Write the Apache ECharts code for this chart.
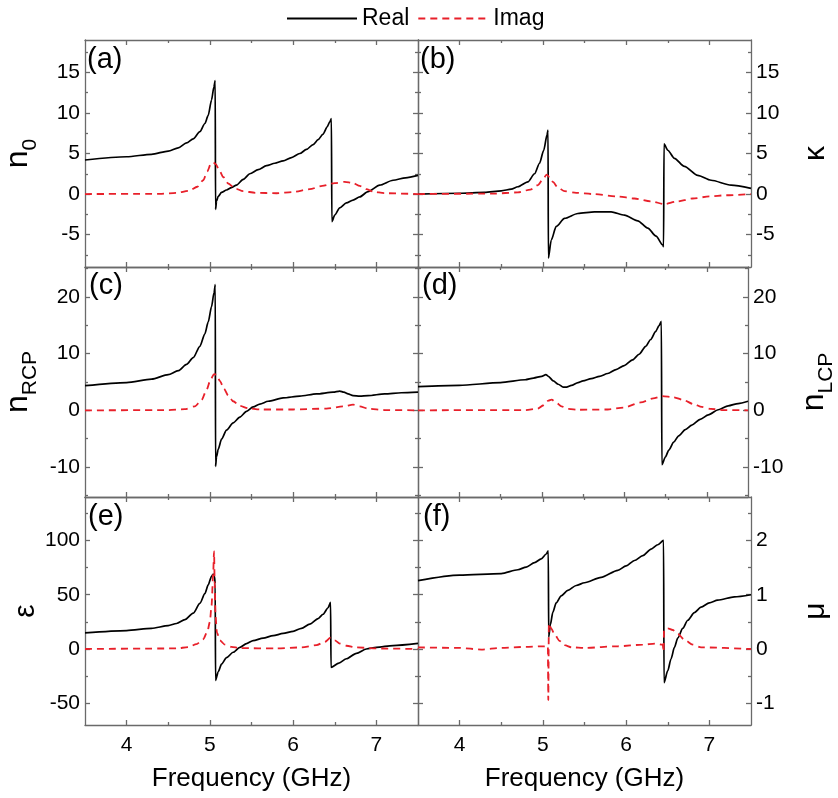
<!DOCTYPE html>
<html><head><meta charset="utf-8">
<script src="https://cdn.jsdelivr.net/npm/echarts@6/dist/echarts.min.js"></script>
<style>html,body{margin:0;padding:0;background:#fff}#c{width:838px;height:798px}</style>
</head><body><div id="c"></div>
<script>
const FONT = 'Liberation Sans, Arial, sans-serif';
const FRAME = '#6a6a6a';
const RED = '#e8202a';

// x axis (Frequency, GHz)
const xMin = 3.5, xMax = 7.5;
const xMajor = [4, 5, 6, 7];
const xMinor = [4.5, 5.5, 6.5];

// (a) n0
const a_real_f = [3.5, 4.0, 4.3, 4.5, 4.62, 4.72, 4.8, 4.88, 4.94, 4.98, 5.02, 5.048, 5.064, 5.068, 5.08, 5.1, 5.14, 5.2, 5.26, 5.32, 5.4, 5.48, 5.58, 5.68, 5.78, 5.88, 5.98, 6.08, 6.16, 6.24, 6.3, 6.36, 6.41, 6.44, 6.46, 6.465, 6.5, 6.56, 6.64, 6.72, 6.8, 6.9, 7.04, 7.2, 7.35, 7.5];
const a_real_v = [4.2, 4.6, 4.9, 5.3, 5.7, 6.3, 6.8, 7.7, 8.7, 9.7, 11.6, 13.2, 14.0, -1.9, -0.9, -0.3, 0.2, 0.5, 0.8, 1.1, 1.8, 2.5, 3.0, 3.5, 3.8, 4.1, 4.5, 5.0, 5.5, 6.1, 6.7, 7.4, 8.3, 8.9, 9.3, -3.4, -2.6, -1.7, -1.1, -0.75, -0.35, 0.3, 1.1, 1.7, 2.0, 2.3];
const a_imag_f = [3.5, 4.4, 4.6, 4.75, 4.85, 4.92, 4.97, 5.01, 5.04, 5.07, 5.11, 5.16, 5.22, 5.3, 5.4, 5.55, 5.8, 6.0, 6.2, 6.35, 6.5, 6.62, 6.72, 6.8, 6.88, 6.96, 7.1, 7.5];
const a_imag_v = [0, 0.02, 0.15, 0.4, 0.9, 1.7, 2.8, 3.7, 3.9, 3.7, 3.0, 2.1, 1.3, 0.7, 0.35, 0.15, 0.1, 0.25, 0.6, 1.0, 1.35, 1.5, 1.35, 1.0, 0.6, 0.3, 0.1, 0];

// (b) kappa
const b_real_f = [3.5, 4.0, 4.3, 4.5, 4.62, 4.7, 4.82, 4.9, 4.96, 5.01, 5.05, 5.062, 5.066, 5.1, 5.16, 5.26, 5.42, 5.62, 5.82, 5.98, 6.14, 6.26, 6.36, 6.44, 6.45, 6.455, 6.5, 6.58, 6.7, 6.86, 7.02, 7.26, 7.5];
const b_real_v = [0, 0.1, 0.2, 0.4, 0.6, 0.9, 1.5, 2.5, 3.8, 5.4, 7.3, 7.9, -7.9, -5.7, -4.0, -3.0, -2.4, -2.2, -2.2, -2.6, -3.3, -4.2, -5.2, -6.3, -6.5, 6.2, 5.4, 4.4, 3.4, 2.3, 1.7, 1.1, 0.7];
const b_imag_f = [3.5, 4.4, 4.7, 4.85, 4.94, 5.0, 5.045, 5.08, 5.12, 5.18, 5.26, 5.4, 5.6, 5.9, 6.1, 6.3, 6.46, 6.6, 6.8, 7.0, 7.2, 7.5];
const b_imag_v = [0, 0.05, 0.2, 0.55, 1.1, 1.8, 2.4, 2.1, 1.5, 0.8, 0.35, 0.15, 0, -0.3, -0.55, -0.9, -1.25, -0.95, -0.55, -0.3, -0.15, 0];

// (c) nRCP
const c_real_f = [3.5, 4.0, 4.3, 4.5, 4.62, 4.72, 4.8, 4.88, 4.94, 4.98, 5.02, 5.05, 5.065, 5.068, 5.08, 5.1, 5.14, 5.2, 5.28, 5.36, 5.44, 5.52, 5.6, 5.7, 5.88, 6.08, 6.28, 6.48, 6.56, 6.61, 6.66, 6.72, 6.8, 6.9, 7.1, 7.3, 7.5];
const c_real_v = [4.35, 4.9, 5.5, 6.3, 7.0, 8.1, 9.3, 11.3, 13.5, 15.6, 18.3, 20.8, 22.2, -9.9, -8.2, -6.9, -5.1, -3.5, -2.2, -1.2, -0.2, 0.6, 1.1, 1.6, 2.2, 2.5, 2.9, 3.2, 3.4, 3.2, 2.9, 2.6, 2.5, 2.6, 2.9, 3.1, 3.2];
const c_imag_f = [3.5, 4.5, 4.7, 4.82, 4.9, 4.96, 5.01, 5.05, 5.08, 5.12, 5.17, 5.22, 5.28, 5.36, 5.46, 5.6, 6.0, 6.4, 6.6, 6.72, 6.8, 6.9, 7.1, 7.5];
const c_imag_v = [0, 0.03, 0.2, 0.7, 1.8, 3.6, 5.5, 6.4, 6.3, 5.2, 3.8, 2.6, 1.6, 0.8, 0.35, 0.15, 0.15, 0.3, 0.7, 1.0, 0.7, 0.3, 0.05, 0];

// (d) nLCP
const d_real_f = [3.5, 4.0, 4.5, 4.8, 4.9, 5.0, 5.05, 5.08, 5.14, 5.2, 5.26, 5.3, 5.36, 5.44, 5.5, 5.6, 5.7, 5.8, 5.9, 6.0, 6.1, 6.18, 6.26, 6.32, 6.38, 6.42, 6.45, 6.456, 6.5, 6.54, 6.6, 6.66, 6.74, 6.82, 6.92, 7.02, 7.14, 7.26, 7.38, 7.5];
const d_real_v = [4.2, 4.4, 4.9, 5.4, 5.7, 6.0, 6.3, 6.0, 5.2, 4.6, 4.1, 4.1, 4.4, 4.9, 5.2, 5.6, 6.0, 6.5, 7.2, 7.9, 8.9, 9.9, 11.3, 12.5, 13.9, 14.9, 15.7, -9.6, -8.2, -7.0, -5.6, -4.5, -3.4, -2.6, -1.6, -0.8, 0.1, 0.8, 1.2, 1.6];
const d_imag_f = [3.5, 4.8, 4.95, 5.02, 5.08, 5.12, 5.17, 5.24, 5.32, 5.45, 5.8, 6.0, 6.2, 6.35, 6.46, 6.6, 6.72, 6.84, 6.94, 7.05, 7.2, 7.5];
const d_imag_v = [0, 0.05, 0.3, 0.9, 1.7, 1.9, 1.4, 0.7, 0.25, 0.1, 0.15, 0.5, 1.4, 2.1, 2.5, 2.3, 1.8, 1.1, 0.6, 0.25, 0.05, 0];

// (e) epsilon
const e_real_f = [3.5, 4.0, 4.3, 4.5, 4.6, 4.7, 4.8, 4.88, 4.94, 4.98, 5.02, 5.04, 5.055, 5.064, 5.068, 5.1, 5.14, 5.2, 5.28, 5.36, 5.44, 5.52, 5.64, 5.76, 5.88, 6.0, 6.1, 6.2, 6.3, 6.36, 6.42, 6.45, 6.455, 6.55, 6.64, 6.76, 6.88, 7.0, 7.2, 7.5];
const e_real_v = [14.8, 17, 19, 21.5, 23.5, 27, 33, 42, 51, 59, 67, 69, 67, 60, -29, -21, -14, -8, -3, 1.5, 5, 7.7, 10, 12.3, 14.3, 16.3, 19, 23, 28, 32, 38, 43, -17, -13, -9, -4, 0, 1.5, 3.2, 5.2];
const e_imag_f = [3.5, 4.6, 4.74, 4.84, 4.92, 4.97, 5.0, 5.02, 5.04, 5.05, 5.058, 5.068, 5.085, 5.12, 5.18, 5.26, 5.36, 5.8, 6.1, 6.28, 6.38, 6.45, 6.5, 6.56, 6.64, 6.76, 7.0, 7.5];
const e_imag_v = [0, 0.5, 1.8, 4.5, 9, 16, 25, 40, 70, 90, 60, 30, 15, 8, 4, 2, 0.8, 0.5, 1.5, 3.5, 6.5, 10.5, 8, 5, 3, 1.5, 0.5, 0];

// (f) mu
const f_real_f = [3.5, 4.0, 4.5, 4.7, 4.8, 4.9, 4.98, 5.04, 5.065, 5.07, 5.09, 5.12, 5.16, 5.22, 5.3, 5.4, 5.5, 5.7, 5.9, 6.0, 6.1, 6.2, 6.3, 6.38, 6.45, 6.455, 6.5, 6.54, 6.58, 6.62, 6.68, 6.74, 6.82, 6.9, 7.0, 7.1, 7.3, 7.5];
const f_real_v = [1.26, 1.36, 1.39, 1.46, 1.51, 1.59, 1.66, 1.75, 1.81, 0.22, 0.45, 0.68, 0.85, 0.98, 1.08, 1.17, 1.22, 1.32, 1.45, 1.53, 1.63, 1.72, 1.84, 1.92, 2.0, -0.62, -0.4, -0.18, 0.03, 0.2, 0.38, 0.53, 0.67, 0.77, 0.85, 0.9, 0.96, 1.0];
const f_imag_f = [3.5, 4.0, 4.26, 4.5, 4.8, 5.02, 5.06, 5.065, 5.072, 5.1, 5.14, 5.2, 5.26, 5.35, 5.5, 5.9, 6.2, 6.35, 6.44, 6.45, 6.455, 6.5, 6.56, 6.62, 6.7, 6.8, 6.9, 7.5];
const f_imag_v = [0.03, 0.02, -0.01, 0.02, 0.04, 0.05, 0.06, -0.94, 0.47, 0.38, 0.27, 0.15, 0.07, 0.03, 0.02, 0.05, 0.08, 0.1, 0.08, -0.05, 0.35, 0.38, 0.35, 0.28, 0.17, 0.08, 0.03, 0];

// y axes
const yRanges = [[-9, 19], [-9, 19], [-15.3, 25.3], [-15.3, 25.3], [-70, 140], [-1.4, 2.8]];
const yMajors = [[-5, 0, 5, 10, 15], [-5, 0, 5, 10, 15], [-10, 0, 10, 20], [-10, 0, 10, 20], [-50, 0, 50, 100], [-1, 0, 1, 2]];
const yMinors = [[-7.5, -2.5, 2.5, 7.5, 12.5, 17.5], [-7.5, -2.5, 2.5, 7.5, 12.5, 17.5], [-15, -5, 5, 15, 25], [-15, -5, 5, 15, 25], [-25, 25, 75, 125], [-0.5, 0.5, 1.5, 2.5]];
const yNames = ['{n|n}{s|0}', '{g|κ}', '{n|n}{s|RCP}', '{n|n}{s|LCP}', '{g|ε}', '{g|μ}'];
const panelLabels = ['(a)', '(b)', '(c)', '(d)', '(e)', '(f)'];

const panels = [
  [a_real_f, a_real_v, a_imag_f, a_imag_v],
  [b_real_f, b_real_v, b_imag_f, b_imag_v],
  [c_real_f, c_real_v, c_imag_f, c_imag_v],
  [d_real_f, d_real_v, d_imag_f, d_imag_v],
  [e_real_f, e_real_v, e_imag_f, e_imag_v],
  [f_real_f, f_real_v, f_imag_f, f_imag_v]
];

const gridBoxes = [
  {left: 85, top: 40, width: 333, height: 227},
  {left: 418, top: 40, width: 333, height: 227},
  {left: 85, top: 267, width: 333, height: 230},
  {left: 418, top: 267, width: 333, height: 230},
  {left: 85, top: 497, width: 333, height: 228},
  {left: 418, top: 497, width: 333, height: 228}
];
const labelPos = [[87, 45], [420, 45], [89, 271], [422, 271], [88, 502], [423, 502]];

const zip = (f, v) => f.map((x, i) => [x, v[i]]);
const rich = {
  n: {fontSize: 32, fontFamily: FONT, color: '#000', verticalAlign: 'bottom', padding: [0, 0, 7, 0]},
  s: {fontSize: 21, fontFamily: FONT, color: '#000', verticalAlign: 'bottom'},
  g: {fontSize: 30, fontFamily: FONT, color: '#000'}
};

const grid = [], xAxis = [], yAxis = [], series = [], title = [];
const lineSt = {color: FRAME, width: 1.3};

gridBoxes.forEach((g, i) => {
  grid.push(Object.assign({containLabel: false}, g));
  const bottomRow = i >= 4;
  const rightCol = i % 2 === 1;
  const mkX = (pos, vals, len, showLine, showLabel) => ({
    gridIndex: i, type: 'value', min: xMin, max: xMax, position: pos,
    axisLine: {show: showLine, onZero: false, lineStyle: lineSt},
    axisTick: {show: true, inside: true, length: len, customValues: vals, lineStyle: lineSt},
    axisLabel: {show: showLabel, customValues: vals, fontSize: 21, color: '#000', fontFamily: FONT, margin: 10},
    splitLine: {show: false},
    name: showLabel ? 'Frequency (GHz)' : '', nameLocation: 'middle', nameGap: 41,
    nameTextStyle: {fontSize: 26, color: '#000', fontFamily: FONT}
  });
  xAxis.push(mkX('bottom', xMajor, 5, true, bottomRow));
  xAxis.push(mkX('bottom', xMinor, 3, false, false));
  xAxis.push(mkX('top', xMajor, 5, true, false));
  xAxis.push(mkX('top', xMinor, 3, false, false));

  const r = yRanges[i];
  const labelSide = rightCol ? 'right' : 'left';
  const otherSide = rightCol ? 'left' : 'right';
  const mkY = (pos, vals, len, showLine, showLabel) => ({
    gridIndex: i, type: 'value', min: r[0], max: r[1], position: pos,
    axisLine: {show: showLine, onZero: false, lineStyle: lineSt},
    axisTick: {show: true, inside: true, length: len, customValues: vals, lineStyle: lineSt},
    axisLabel: {show: showLabel, customValues: vals, fontSize: 21, color: '#000', fontFamily: FONT, margin: 5},
    splitLine: {show: false},
    name: showLabel ? yNames[i] : '', nameLocation: 'middle', nameRotate: 90,
    nameGap: rightCol ? 50 : 44,
    nameTextStyle: {rich: rich, fontFamily: FONT, color: '#000'}
  });
  yAxis.push(mkY(labelSide, yMajors[i], 5, true, true));
  yAxis.push(mkY(labelSide, yMinors[i], 3, false, false));
  yAxis.push(mkY(otherSide, yMajors[i], 5, true, false));
  yAxis.push(mkY(otherSide, yMinors[i], 3, false, false));

  const p = panels[i];
  series.push({
    type: 'line', name: 'Real', xAxisIndex: 4 * i, yAxisIndex: 4 * i,
    data: zip(p[0], p[1]), symbol: 'none', smooth: 0.25, smoothMonotone: 'x',
    color: '#000', lineStyle: {color: '#000', width: 1.7}, z: 3
  });
  series.push({
    type: 'line', name: 'Imag', xAxisIndex: 4 * i, yAxisIndex: 4 * i,
    data: zip(p[2], p[3]), symbol: 'none', smooth: 0.25, smoothMonotone: 'x',
    color: RED, lineStyle: {color: RED, width: 1.8, type: [7, 5]}, z: 4
  });
  title.push({
    text: panelLabels[i], left: labelPos[i][0], top: labelPos[i][1], padding: 0,
    textStyle: {fontSize: 29, fontWeight: 'normal', color: '#000', fontFamily: FONT}
  });
});

const chart = echarts.init(document.getElementById('c'), null, {renderer: 'canvas'});
chart.setOption({
  animation: false,
  backgroundColor: '#fff',
  title: title,
  legend: {
    data: ['Real', 'Imag'], top: 2, left: 281, itemWidth: 70, itemHeight: 14, itemGap: 8,
    itemStyle: {opacity: 0},
    textStyle: {fontSize: 23, color: '#000', fontFamily: FONT}
  },
  grid: grid, xAxis: xAxis, yAxis: yAxis, series: series
});
</script>
</body></html>
